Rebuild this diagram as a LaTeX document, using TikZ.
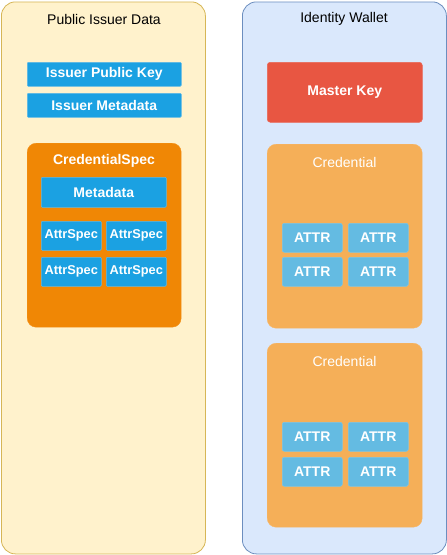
\documentclass[tikz,border=0pt]{standalone}
\usepackage{fontspec}
\setmainfont{Liberation Sans}
\definecolor{leftfill}{HTML}{FFF2CC}
\definecolor{leftdraw}{HTML}{D6B656}
\definecolor{rightfill}{HTML}{DAE8FC}
\definecolor{rightdraw}{HTML}{6C8EBF}
\definecolor{bluebox}{HTML}{1BA1E2}
\definecolor{blueedge}{HTML}{5DB8E6}
\definecolor{specorange}{HTML}{F08705}
\definecolor{masterred}{HTML}{E85642}
\definecolor{credorange}{HTML}{F5AF58}
\definecolor{attrblue}{HTML}{64BBE2}
\begin{document}
\begin{tikzpicture}[x=1pt,y=-1pt,
  container/.style={line width=0.8pt, rounded corners=14pt, anchor=north west, inner sep=0pt},
  boxbase/.style={anchor=north west, inner sep=0pt, text=white, font=\bfseries\fontsize{14}{16}\selectfont},
  bluekey/.style={boxbase, fill=bluebox, draw=blueedge, line width=0.5pt, rounded corners=1pt},
  attrspec/.style={bluekey, font=\bfseries\fontsize{12.8}{15}\selectfont},
  attrbox/.style={boxbase, font=\fontsize{14}{16}\selectfont\bfseries, fill=attrblue, draw=attrblue!85!white, line width=0.5pt, rounded corners=2pt},
  title/.style={font=\fontsize{14}{16}\selectfont, text=black},
  wtitle/.style={font=\fontsize{14}{16}\selectfont, text=white}
]
\useasboundingbox (0,0) rectangle (447,555);
% containers
\node[container, draw=leftdraw, fill=leftfill, minimum width=204, minimum height=552] (left) at (1,1.5) {};
\node[container, draw=rightdraw, fill=rightfill, minimum width=204, minimum height=552] (right) at (242,1.5) {};
\node[title] (lefttitle) at (104,19) {Public Issuer Data};
\node[title] (righttitle) at (344,19) {Identity Wallet};
% left content
\node[bluekey, minimum width=154, minimum height=24] (ipk) at (27,62) {Issuer Public Key};
\node[bluekey, minimum width=154, minimum height=24] (imd) at (27,93) {Issuer Metadata};
\node[anchor=north west, inner sep=0pt, fill=specorange, draw=specorange!90!white, rounded corners=9pt, minimum width=154, minimum height=184] (spec) at (27,143) {};
\node[wtitle, font=\bfseries\fontsize{14}{16}\selectfont] (spectitle) at (104,161) {CredentialSpec};
\node[bluekey, minimum width=125, minimum height=30] (meta) at (41,177) {Metadata};
\node[attrspec, minimum width=60, minimum height=29] (as1) at (41,221) {AttrSpec};
\node[attrspec, minimum width=60, minimum height=29] (as2) at (106,221) {AttrSpec};
\node[attrspec, minimum width=60, minimum height=29] (as3) at (41,257) {AttrSpec};
\node[attrspec, minimum width=60, minimum height=29] (as4) at (106,257) {AttrSpec};
% right content
\node[boxbase, fill=masterred, draw=masterred!90!white, line width=0.5pt, rounded corners=3pt, minimum width=155, minimum height=60] (master) at (267,62) {Master Key};
\node[anchor=north west, inner sep=0pt, fill=credorange, draw=credorange!90!white, rounded corners=9pt, minimum width=155, minimum height=184] (cred1) at (267,144) {};
\node[wtitle] (cred1title) at (344.5,162) {Credential};
\node[attrbox, minimum width=60, minimum height=29] (a11) at (282,223) {ATTR};
\node[attrbox, minimum width=60, minimum height=29] (a12) at (348,223) {ATTR};
\node[attrbox, minimum width=60, minimum height=29] (a13) at (282,257) {ATTR};
\node[attrbox, minimum width=60, minimum height=29] (a14) at (348,257) {ATTR};
\node[anchor=north west, inner sep=0pt, fill=credorange, draw=credorange!90!white, rounded corners=9pt, minimum width=155, minimum height=184] (cred2) at (267,343) {};
\node[wtitle] (cred2title) at (344.5,361) {Credential};
\node[attrbox, minimum width=60, minimum height=29] (a21) at (282,422) {ATTR};
\node[attrbox, minimum width=60, minimum height=29] (a22) at (348,422) {ATTR};
\node[attrbox, minimum width=60, minimum height=29] (a23) at (282,457) {ATTR};
\node[attrbox, minimum width=60, minimum height=29] (a24) at (348,457) {ATTR};
\end{tikzpicture}
\end{document}
